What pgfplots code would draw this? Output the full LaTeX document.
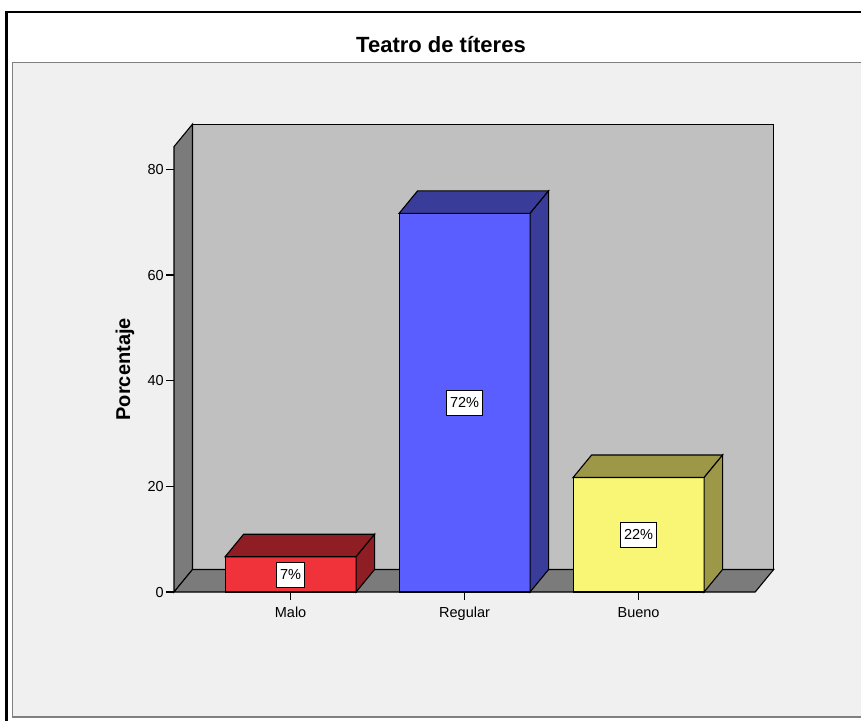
\documentclass[border=0pt]{standalone}
\usepackage{fontspec}
\setmainfont{Liberation Sans}
\usepackage{pgfplots}
\pgfplotsset{compat=1.18}

\definecolor{panel}{HTML}{F0F0F0}
\definecolor{panelline}{HTML}{808080}
\definecolor{backwall}{HTML}{C0C0C0}
\definecolor{sidewall}{HTML}{7B7B7B}
\definecolor{redF}{HTML}{F0323A}
\definecolor{redD}{HTML}{8E1E23}
\definecolor{bluF}{HTML}{5A5EFF}
\definecolor{bluD}{HTML}{393C99}
\definecolor{yelF}{HTML}{FAF675}
\definecolor{yelD}{HTML}{9C9848}

% 3D bar drawn at the data point (top centre of the front face)
\newcommand{\barbox}[2]{%
  \pgfmathsetlengthmacro\bh{\barval*5.283pt}%
  \pgfsetlinewidth{1.1pt}%
  \pgfsetstrokecolor{black}%
  \pgfsetfillcolor{#1}%
  \pgfpathrectanglecorners{\pgfpoint{-65.5pt}{-\bh}}{\pgfpoint{65.5pt}{0pt}}%
  \pgfusepath{fill,stroke}%
  \pgfsetfillcolor{#2}%
  \pgfpathmoveto{\pgfpoint{-65.5pt}{0pt}}%
  \pgfpathlineto{\pgfpoint{65.5pt}{0pt}}%
  \pgfpathlineto{\pgfpoint{84pt}{22.5pt}}%
  \pgfpathlineto{\pgfpoint{-47pt}{22.5pt}}%
  \pgfpathclose
  \pgfusepath{fill,stroke}%
  \pgfpathmoveto{\pgfpoint{65.5pt}{0pt}}%
  \pgfpathlineto{\pgfpoint{84pt}{22.5pt}}%
  \pgfpathlineto{\pgfpoint{84pt}{22.5pt-\bh}}%
  \pgfpathlineto{\pgfpoint{65.5pt}{-\bh}}%
  \pgfpathclose
  \pgfusepath{fill,stroke}%
}
\pgfdeclareplotmark{barR}{\barbox{redF}{redD}}
\pgfdeclareplotmark{barB}{\barbox{bluF}{bluD}}
\pgfdeclareplotmark{barY}{\barbox{yelF}{yelD}}

\pgfplotsset{
  bar3d/.style={scatter, only marks, mark=#1, point meta=y,
    visualization depends on={rawy \as \barval},
    nodes near coords={\pgfmathprintnumber[fixed,precision=0]{\pgfplotspointmeta}\%},
    nodes near coords align={center},
    every node near coord/.append style={anchor=center, yshift={-\barval*2.6415pt},
      fill=white, draw=black, line width=0.6pt, text=black,
      inner xsep=3.5pt, inner ysep=0pt, minimum height=25pt,
      font=\fontsize{14.5}{16}\selectfont}},
}

\begin{document}
\begin{tikzpicture}
\useasboundingbox (0,0) rectangle (861pt,-720pt);
\clip (0,0) rectangle (861pt,-720pt);
\fill[white] (0,0) rectangle (861pt,-720pt);
\draw[line width=2.5pt] (6.5pt,-12pt) rectangle (900pt,-740pt);
\filldraw[fill=panel, draw=panelline, line width=1.5pt] (12.5pt,-62.5pt) rectangle (900pt,-717pt);
\node[font=\bfseries\fontsize{22}{26}\selectfont] at (441pt,-45pt) {Teatro de títeres};

\begin{axis}[
  at={(174pt,-592pt)}, anchor=south west,
  scale only axis,
  x=174pt, y=5.283pt,
  xmin=-0.67, xmax=2.67, ymin=0, ymax=84.3,
  clip=false,
  axis line style={draw=none},
  axis x line*=bottom, axis y line*=left,
  tick align=outside,
  major tick length=8pt,
  major tick style={black, line width=1.2pt},
  xtick={0,1,2}, xticklabels={Malo,Regular,Bueno},
  ytick={0,20,40,60,80},
  tick label style={font=\fontsize{14.5}{16}\selectfont},
  yticklabel style={inner xsep=2pt},
  xticklabel style={yshift=-3pt, text height=10.5pt, text depth=3pt},
  /pgf/number format/assume math mode=true,
  ylabel={Porcentaje},
  every axis y label/.style={at={([xshift=-49pt]rel axis cs:0,0.5)}, rotate=90, anchor=center,
    font=\bfseries\fontsize{20}{22}\selectfont},
]
% back wall, left wall and floor
\filldraw[fill=backwall, draw=black, line width=1.1pt]
  ([shift={(18.5pt,22.5pt)}]rel axis cs:0,0) rectangle ([shift={(18.5pt,22.5pt)}]rel axis cs:1,1);
\filldraw[fill=sidewall, draw=black, line width=1.1pt]
  (rel axis cs:0,0) -- (rel axis cs:0,1) -- ([shift={(18.5pt,22.5pt)}]rel axis cs:0,1)
  -- ([shift={(18.5pt,22.5pt)}]rel axis cs:0,0) -- cycle;
\filldraw[fill=sidewall, draw=black, line width=1.1pt]
  (rel axis cs:0,0) -- (rel axis cs:1,0) -- ([shift={(18.5pt,22.5pt)}]rel axis cs:1,0)
  -- ([shift={(18.5pt,22.5pt)}]rel axis cs:0,0) -- cycle;

\addplot[bar3d=barR] coordinates {(0,6.67)};
\addplot[bar3d=barB] coordinates {(1,71.67)};
\addplot[bar3d=barY] coordinates {(2,21.67)};
\end{axis}
\end{tikzpicture}
\end{document}
